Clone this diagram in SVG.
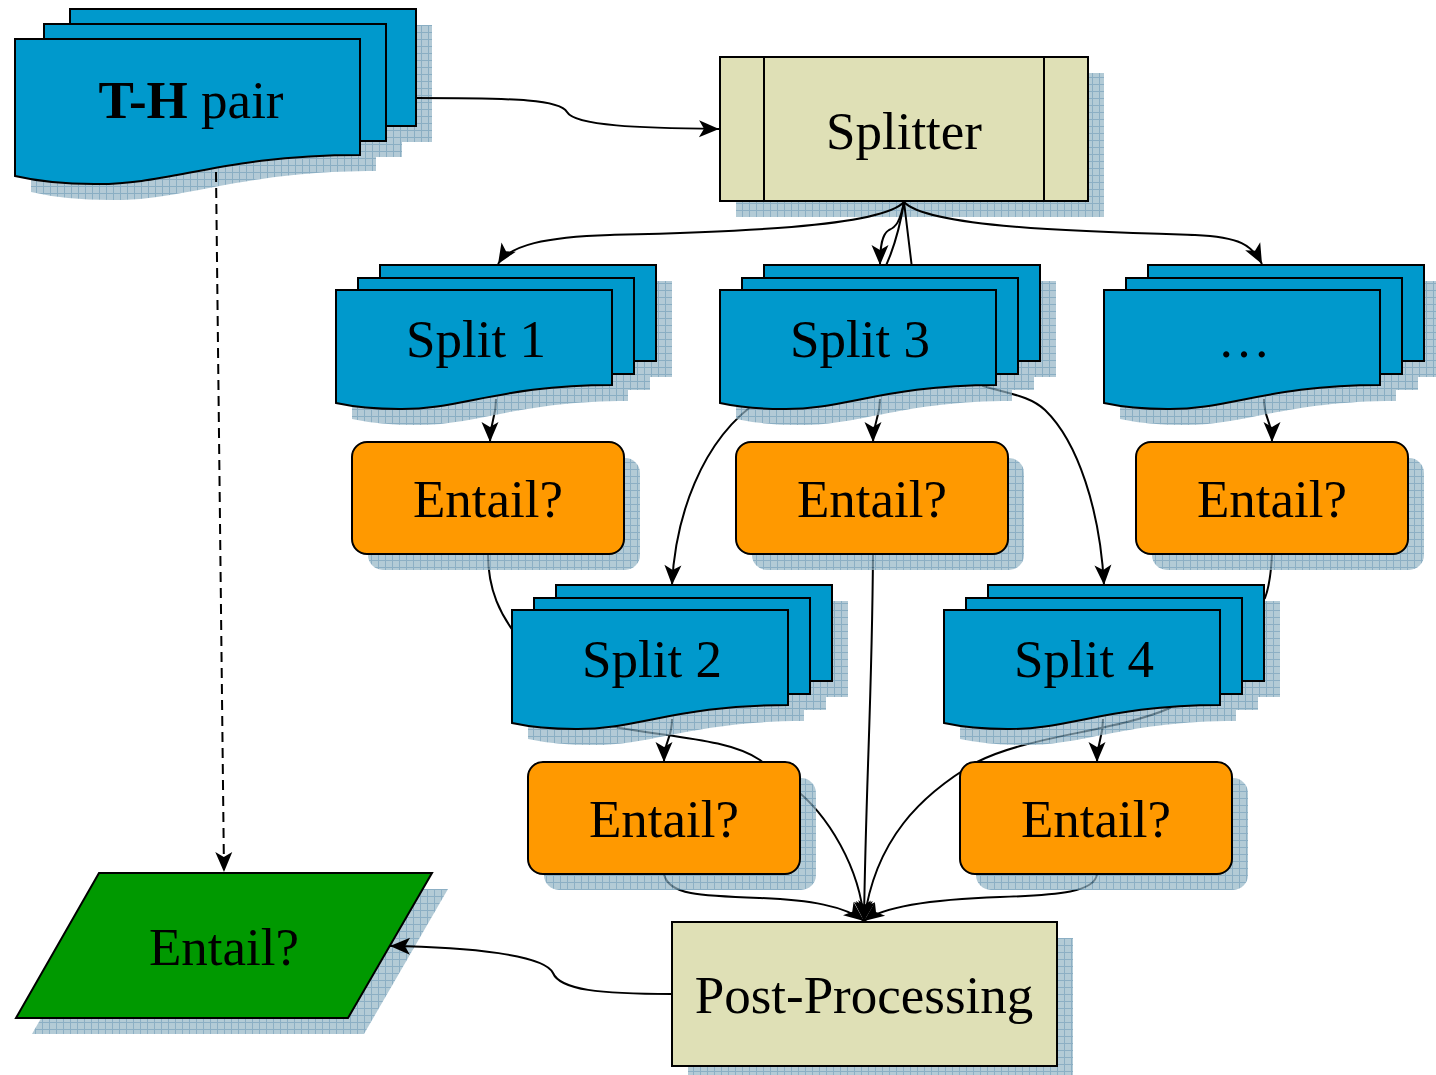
<svg xmlns="http://www.w3.org/2000/svg" width="1436" height="1075" viewBox="0 0 1436 1075">
<style>
.doc{fill:#0099cc;stroke:#000;stroke-width:2;stroke-linejoin:miter}
.ent{fill:#ff9900;stroke:#000;stroke-width:2}
.proc{fill:#dfe0b6;stroke:#000;stroke-width:2}
.io{fill:#009900;stroke:#000;stroke-width:2}
.shd{fill:url(#hatch);opacity:0.7}
.lbl{font-family:"Liberation Serif","Times New Roman",serif;font-size:53px;text-anchor:middle;fill:#000}
.con{fill:none;stroke:#000;stroke-width:2;marker-end:url(#arr)}
.dash{stroke-dasharray:10 6}
</style>
<defs>
<pattern id="hatch" width="7" height="7" patternUnits="userSpaceOnUse">
<rect width="7" height="7" fill="#93b4c5"/>
<path d="M0,0.5H7M0.5,0V7" stroke="#5a8dab" stroke-width="1" fill="none"/>
</pattern>
<marker id="arr" markerUnits="userSpaceOnUse" markerWidth="22" markerHeight="18" refX="20" refY="8.5" orient="auto" overflow="visible">
<path d="M0,0 L20,8.5 L0,17 L5,8.5 z" fill="#000"/>
</marker>
</defs>
<rect width="1436" height="1075" fill="#fff"/>

<g id="th-pair" transform="translate(15,39)">
<g class="shd">
<rect x="71" y="-14" width="346" height="117"/>
<rect x="45" y="1" width="342" height="117"/>
<path d="M16,16 h345 v116 c-138,0 -189.8,30.2 -265.6,29 q-44.9,0 -79.4,-8 z"/>
</g>
<rect class="doc" x="55" y="-30" width="346" height="117"/>
<rect class="doc" x="29" y="-15" width="342" height="117"/>
<path class="doc" d="M0,0 h345 v116 c-138,0 -189.8,30.2 -265.6,29 q-44.9,0 -79.4,-8 z"/>
<text class="lbl" x="176" y="79"><tspan font-weight="bold">T-H</tspan> pair</text>
</g>

<g id="splitter">
<rect class="shd" x="736" y="73" width="368" height="144"/>
<rect class="proc" x="720" y="57" width="368" height="144"/>
<path d="M764,57V201M1044,57V201" stroke="#000" stroke-width="2"/>
<text class="lbl" x="904" y="149">Splitter</text>
</g>

<g id="post-processing">
<rect class="shd" x="688" y="938" width="385" height="144"/>
<rect class="proc" x="672" y="922" width="385" height="144"/>
<text class="lbl" x="864" y="1013">Post-Processing</text>
</g>

<g id="final-entail">
<polygon class="shd" points="115,889 448,889 364,1034 32,1034"/>
<polygon class="io" points="99,873 432,873 348,1018 16,1018"/>
<text class="lbl" x="224" y="965">Entail?</text>
</g>

<g id="connectors">
<path class="con" d="M416,98 C520,98 560,100 567,112 C575,126 640,128 719,129"/>
<path class="con dash" d="M216,172 L224,872"/>
<path class="con" d="M904,202 C880,228 720,232 610,235 C545,237 510,245 498,264"/>
<path class="con" d="M904,202 C900,222 896,227 889,230 C882,234 880,246 880,265"/>
<path class="con" d="M904,202 C898,240 880,330 760,400 C700,440 675,520 672,585"/>
<path class="con" d="M904,202 C907,228 910,250 912,268 L983,386 C1010,394 1030,396 1045,410 C1078,442 1100,510 1104,585"/>
<path class="con" d="M904,202 C928,228 1090,232 1195,235 C1240,237 1252,245 1262,264"/>
<path class="con" d="M496,399 C496,420 490,420 490,442"/>
<path class="con" d="M880,399 C880,420 873,420 873,442"/>
<path class="con" d="M1264,399 C1264,420 1272,420 1272,442"/>
<path class="con" d="M672,719 C672,740 664,740 664,762"/>
<path class="con" d="M1103,719 C1103,740 1097,740 1097,762"/>
<path class="con" d="M488,554 C488,590 500,615 520,640 C560,690 580,720 620,728 C680,738 730,740 760,760 L790,785 C830,815 860,870 864,921"/>
<path class="con" d="M873,554 C872,700 866,780 864,921"/>
<path class="con" d="M664,874 C668,895 700,896 760,898 C810,900 845,906 864,921"/>
<path class="con" d="M1097,874 C1095,892 1060,895 1000,897 C940,899 884,906 864,921"/>
<path class="con" d="M1272,554 C1271,575 1268,590 1265,598 L1170,708 C1115,732 1030,735 977,762 C920,795 875,840 864,921"/>
<path class="con" d="M672,994 C600,994 560,990 553,973 C545,955 470,947 390,946"/>
</g>

<g id="split1" transform="translate(336,290)">
<g class="shd">
<rect x="60" y="-9" width="276" height="96"/>
<rect x="38" y="4" width="276" height="96"/>
<path d="M16,16 h276 v95 c-110.4,0 -151.8,24.7 -212.5,24 q-35.9,0 -63.5,-6 z"/>
</g>
<rect class="doc" x="44" y="-25" width="276" height="96"/>
<rect class="doc" x="22" y="-12" width="276" height="96"/>
<path class="doc" d="M0,0 h276 v95 c-110.4,0 -151.8,24.7 -212.5,24 q-35.9,0 -63.5,-6 z"/>
<text class="lbl" x="140" y="67">Split 1</text>
</g>

<g id="split3" transform="translate(720,290)">
<g class="shd">
<rect x="60" y="-9" width="276" height="96"/>
<rect x="38" y="4" width="276" height="96"/>
<path d="M16,16 h276 v95 c-110.4,0 -151.8,24.7 -212.5,24 q-35.9,0 -63.5,-6 z"/>
</g>
<rect class="doc" x="44" y="-25" width="276" height="96"/>
<rect class="doc" x="22" y="-12" width="276" height="96"/>
<path class="doc" d="M0,0 h276 v95 c-110.4,0 -151.8,24.7 -212.5,24 q-35.9,0 -63.5,-6 z"/>
<text class="lbl" x="140" y="67">Split 3</text>
</g>

<g id="split-more" transform="translate(1104,290)">
<g class="shd">
<rect x="60" y="-9" width="276" height="96"/>
<rect x="38" y="4" width="276" height="96"/>
<path d="M16,16 h276 v95 c-110.4,0 -151.8,24.7 -212.5,24 q-35.9,0 -63.5,-6 z"/>
</g>
<rect class="doc" x="44" y="-25" width="276" height="96"/>
<rect class="doc" x="22" y="-12" width="276" height="96"/>
<path class="doc" d="M0,0 h276 v95 c-110.4,0 -151.8,24.7 -212.5,24 q-35.9,0 -63.5,-6 z"/>
<text class="lbl" x="140" y="67">…</text>
</g>

<g id="split2" transform="translate(512,610)">
<g class="shd">
<rect x="60" y="-9" width="276" height="96"/>
<rect x="38" y="4" width="276" height="96"/>
<path d="M16,16 h276 v95 c-110.4,0 -151.8,24.7 -212.5,24 q-35.9,0 -63.5,-6 z"/>
</g>
<rect class="doc" x="44" y="-25" width="276" height="96"/>
<rect class="doc" x="22" y="-12" width="276" height="96"/>
<path class="doc" d="M0,0 h276 v95 c-110.4,0 -151.8,24.7 -212.5,24 q-35.9,0 -63.5,-6 z"/>
<text class="lbl" x="140" y="67">Split 2</text>
</g>

<g id="split4" transform="translate(944,610)">
<g class="shd">
<rect x="60" y="-9" width="276" height="96"/>
<rect x="38" y="4" width="276" height="96"/>
<path d="M16,16 h276 v95 c-110.4,0 -151.8,24.7 -212.5,24 q-35.9,0 -63.5,-6 z"/>
</g>
<rect class="doc" x="44" y="-25" width="276" height="96"/>
<rect class="doc" x="22" y="-12" width="276" height="96"/>
<path class="doc" d="M0,0 h276 v95 c-110.4,0 -151.8,24.7 -212.5,24 q-35.9,0 -63.5,-6 z"/>
<text class="lbl" x="140" y="67">Split 4</text>
</g>

<g id="entail1">
<rect class="shd" x="368" y="458" width="272" height="112" rx="15"/>
<rect class="ent" x="352" y="442" width="272" height="112" rx="15"/>
<text class="lbl" x="488" y="517">Entail?</text>
</g>
<g id="entail3">
<rect class="shd" x="752" y="458" width="272" height="112" rx="15"/>
<rect class="ent" x="736" y="442" width="272" height="112" rx="15"/>
<text class="lbl" x="872" y="517">Entail?</text>
</g>
<g id="entail-more">
<rect class="shd" x="1152" y="458" width="272" height="112" rx="15"/>
<rect class="ent" x="1136" y="442" width="272" height="112" rx="15"/>
<text class="lbl" x="1272" y="517">Entail?</text>
</g>
<g id="entail2">
<rect class="shd" x="544" y="778" width="272" height="112" rx="15"/>
<rect class="ent" x="528" y="762" width="272" height="112" rx="15"/>
<text class="lbl" x="664" y="837">Entail?</text>
</g>
<g id="entail4">
<rect class="shd" x="976" y="778" width="272" height="112" rx="15"/>
<rect class="ent" x="960" y="762" width="272" height="112" rx="15"/>
<text class="lbl" x="1096" y="837">Entail?</text>
</g>
</svg>
